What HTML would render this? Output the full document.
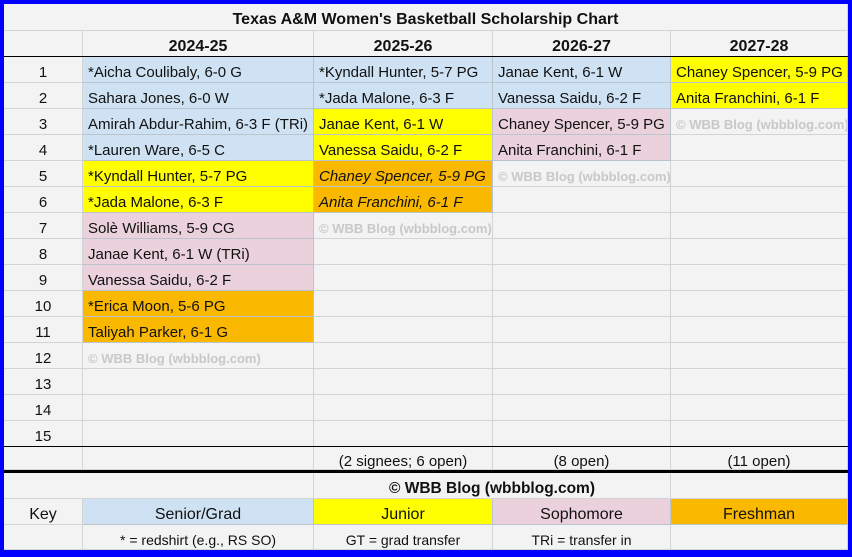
<!DOCTYPE html>
<html><head><meta charset="utf-8"><style>
body{margin:0;width:852px;height:557px;background:#0000ff;position:relative;overflow:hidden;font-family:"Liberation Sans",Arial,sans-serif;}
#sheet{position:absolute;left:4px;top:4px;width:844px;height:546px;background:#f3f3f3;}
.c{position:absolute;box-sizing:border-box;border-right:1px solid #d4d4d4;border-bottom:1px solid #d4d4d4;font-size:15px;color:#111;white-space:nowrap;overflow:hidden;line-height:25px;padding-top:3px;padding-left:5px;}
.ctr{text-align:center;padding-left:0;}
.b{font-weight:bold;font-size:15.5px;}
.wm{color:#c8c8c8;font-size:13px;font-weight:bold;}
.hl{position:absolute;background:#000;left:0;width:844px;}
</style></head><body>
<div id="sheet"></div>
<script>
const colX=[0,79,310,489,667,844];
const years=["2024-25","2025-26","2026-27","2027-28"];
const col1=[["*Aicha Coulibaly, 6-0 G","s"],["Sahara Jones, 6-0 W","s"],["Amirah Abdur-Rahim, 6-3 F (TRi)","s"],["*Lauren Ware, 6-5 C","s"],["*Kyndall Hunter, 5-7 PG","j"],["*Jada Malone, 6-3 F","j"],["Solè Williams, 5-9 CG","p"],["Janae Kent, 6-1 W (TRi)","p"],["Vanessa Saidu, 6-2 F","p"],["*Erica Moon, 5-6 PG","f"],["Taliyah Parker, 6-1 G","f"],["© WBB Blog (wbbblog.com)","w"]];
const col2=[["*Kyndall Hunter, 5-7 PG","s"],["*Jada Malone, 6-3 F","s"],["Janae Kent, 6-1 W","j"],["Vanessa Saidu, 6-2 F","j"],["Chaney Spencer, 5-9 PG","fi"],["Anita Franchini, 6-1 F","fi"],["© WBB Blog (wbbblog.com)","w"]];
const col3=[["Janae Kent, 6-1 W","s"],["Vanessa Saidu, 6-2 F","s"],["Chaney Spencer, 5-9 PG","p"],["Anita Franchini, 6-1 F","p"],["© WBB Blog (wbbblog.com)","w"]];
const col4=[["Chaney Spencer, 5-9 PG","j"],["Anita Franchini, 6-1 F","j"],["© WBB Blog (wbbblog.com)","w"]];
const summary=["","(2 signees; 6 open)","(8 open)","(11 open)"];
const keys=[["Senior/Grad","s"],["Junior","j"],["Sophomore","p"],["Freshman","f"]];
const notes=["* = redshirt (e.g., RS SO)","GT = grad transfer","TRi = transfer in",""];
const colors={s:"#cfe2f3",j:"#ffff00",p:"#ead1dc",f:"#fbb800",fi:"#fbb800",w:"",e:""};
const sheet=document.getElementById('sheet');
function cell(x0,x1,y,h,txt,cls,bg){
  const d=document.createElement('div');
  d.className='c '+(cls||'');
  d.style.left=x0+'px';d.style.top=y+'px';d.style.width=(x1-x0)+'px';d.style.height=h+'px';
  if(bg){d.style.background=bg;d.style.borderColor='#b9c4cc';}
  d.textContent=txt;sheet.appendChild(d);return d;
}
let t=cell(0,844,0,27,"Texas A&M Women's Basketball Scholarship Chart","ctr b");
t.style.fontSize='16px';


let h0=cell(0,79,27,26,"","");


years.forEach((y,i)=>{const d=cell(colX[i+1],colX[i+2],27,26,y,"ctr b");d.style.fontSize='16px';

});
const cols=[col1,col2,col3,col4];
for(let r=0;r<15;r++){
  const y=53+r*26;
  const n=cell(0,79,y,26,String(r+1),"ctr");
  
  
  cols.forEach((col,ci)=>{
    const it=col[r]||["","e"];
    const cls=it[1]==="w"?"wm":"";
    const d=cell(colX[ci+1],colX[ci+2],y,26,it[0],cls,colors[it[1]]);
    if(it[1]==="fi")d.style.fontStyle="italic";
    
    
  });
}
let s0=cell(0,79,443,23,"","");


summary.forEach((s,i)=>{const d=cell(colX[i+1],colX[i+2],443,23,s,"ctr");d.style.lineHeight='24px';

});
let cp0=cell(0,310,469,26,"","");


let cp=cell(310,667,469,26,"© WBB Blog (wbbblog.com)","ctr b");


let cp2=cell(667,844,469,26,"","");


let k=cell(0,79,495,26,"Key","ctr");k.style.fontSize='16px';


keys.forEach((kk,i)=>{const d=cell(colX[i+1],colX[i+2],495,26,kk[0],"ctr",colors[kk[1]]);d.style.fontSize='16px';

});
let nb=cell(0,79,521,25,"","");


notes.forEach((n,i)=>{const d=cell(colX[i+1],colX[i+2],521,25,n,"ctr");d.style.fontSize='14px';

});
[[52,1],[442,1],[466,3]].forEach(l=>{const d=document.createElement('div');d.className='hl';d.style.top=l[0]+'px';d.style.height=l[1]+'px';


sheet.appendChild(d);});
</script>
</body></html>
